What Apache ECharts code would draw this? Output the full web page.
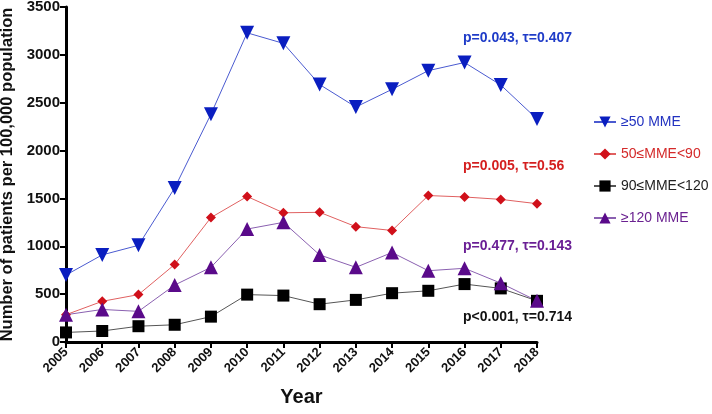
<!DOCTYPE html>
<html>
<head>
<meta charset="utf-8">
<script src="https://cdn.jsdelivr.net/npm/echarts@6/dist/echarts.min.js"></script>
<style>
  html, body { margin: 0; padding: 0; background: #fff; }
  #container { width: 712px; height: 414px; }
</style>
</head>
<body>
<div id="container"></div>
<script>
var years = ['2005','2006','2007','2008','2009','2010','2011','2012','2013','2014','2015','2016','2017','2018'];
var mme50 = [700, 910, 1010, 1610, 2380, 3230, 3120, 2690, 2455, 2640, 2835, 2920, 2685, 2330];
var mme50to90 = [285, 425, 495, 810, 1300, 1520, 1350, 1355, 1205, 1165, 1530, 1515, 1490, 1445];
var mme90to120 = [100, 115, 165, 180, 265, 495, 485, 395, 440, 510, 535, 605, 560, 430];
var mme120 = [285, 340, 320, 595, 780, 1180, 1250, 910, 780, 935, 745, 770, 615, 430];
var yTicks = [0, 500, 1000, 1500, 2000, 2500, 3000, 3500];

var font = 'Liberation Sans, Arial, sans-serif';

function lineSeries(name, data, color, lineColor, symbol, size, rotate){
  return {
    name: name,
    type: 'line',
    data: data,
    symbol: symbol,
    symbolSize: size,
    symbolRotate: rotate || 0,
    showAllSymbol: true,
    itemStyle: { color: color },
    lineStyle: { color: lineColor, width: 1 },
    emphasis: { disabled: true }
  };
}

var option = {
  animation: false,
  textStyle: { fontFamily: font },
  grid: { left: 66, right: 175, top: 7, bottom: 72, outerBoundsMode: 'none' },
  legend: {
    orient: 'vertical',
    left: 588,
    top: 110,
    itemWidth: 22,
    itemHeight: 14,
    itemGap: 18,
    textStyle: { fontSize: 14, fontFamily: font },
    data: [
      { name: '≥50 MME', textStyle: { color: '#2232c0' } },
      { name: '50≤MME<90', textStyle: { color: '#d42a2a' } },
      { name: '90≤MME<120', textStyle: { color: '#222' } },
      { name: '≥120 MME', textStyle: { color: '#6a2190' } }
    ]
  },
  xAxis: {
    type: 'category',
    data: years,
    boundaryGap: false,
    name: 'Year',
    nameLocation: 'middle',
    nameGap: 45,
    nameTextStyle: { fontSize: 20, fontWeight: 'bold', color: '#111' },
    axisLine: { lineStyle: { color: '#000', width: 3 } },
    axisTick: { alignWithLabel: true, length: 6, lineStyle: { width: 2 } },
    axisLabel: { rotate: 45, fontSize: 13, fontWeight: 'bold', color: '#111', margin: 8 }
  },
  yAxis: {
    type: 'value',
    min: 0,
    max: 3500,
    interval: 500,
    name: 'Number of patients per 100,000 population',
    nameLocation: 'middle',
    nameGap: 46,
    nameTextStyle: { fontSize: 16.5, fontWeight: 'bold', color: '#111' },
    axisLine: { show: true, lineStyle: { color: '#000', width: 3 } },
    axisTick: { show: true, length: 6, lineStyle: { width: 2 } },
    axisLabel: { fontSize: 15, fontWeight: 'bold', color: '#111', margin: 6,
      formatter: function(v){ return yTicks.indexOf(v) >= 0 ? String(v) : ''; } },
    splitLine: { show: false }
  },
  graphic: [
    { type: 'text', left: 463, top: 31, style: { text: 'p=0.043, τ=0.407', fill: '#1f3cc8', font: 'bold 14px ' + font } },
    { type: 'text', left: 463, top: 159, style: { text: 'p=0.005, τ=0.56', fill: '#d41f1f', font: 'bold 14px ' + font } },
    { type: 'text', left: 463, top: 239, style: { text: 'p=0.477, τ=0.143', fill: '#6a1f95', font: 'bold 14px ' + font } },
    { type: 'text', left: 463, top: 310, style: { text: 'p<0.001, τ=0.714', fill: '#111', font: 'bold 14px ' + font } }
  ],
  series: [
    lineSeries('≥50 MME', mme50, '#0a1ec0', '#4a5ad0', 'triangle', 14, 180),
    lineSeries('50≤MME<90', mme50to90, '#d0101a', '#e06060', 'diamond', 10),
    lineSeries('90≤MME<120', mme90to120, '#000', '#555', 'rect', 12),
    lineSeries('≥120 MME', mme120, '#5a0a8a', '#8a60b0', 'triangle', 14)
  ]
};

var myChart = echarts.init(document.getElementById('container'));
myChart.setOption(option);
</script>
</body>
</html>
